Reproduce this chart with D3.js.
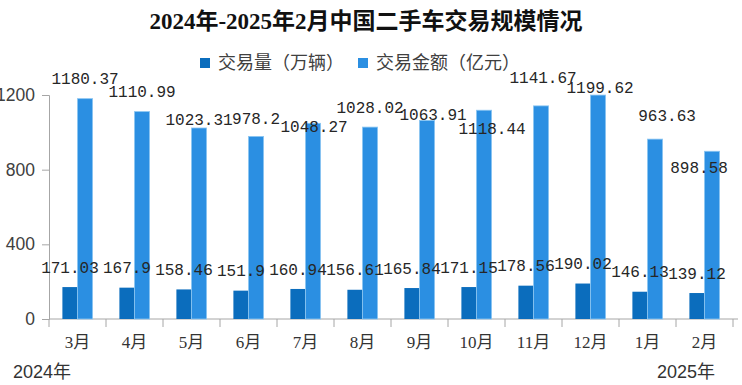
<!DOCTYPE html>
<html>
<head>
<meta charset="utf-8">
<script src="https://cdn.jsdelivr.net/npm/d3@7/dist/d3.min.js"></script>
<style>
  body { margin: 0; background: #fff; }
  svg { display: block; }
  .axis path, .axis line { stroke: #a6a6a6; }
  .axis-y text { font-family: "Liberation Sans", Arial, sans-serif; font-size: 17.5px; fill: #404040; }
  .axis-x text { font-family: "Liberation Serif", "Noto Sans CJK SC", serif; font-size: 17px; fill: #333; }
  .value { font-family: "Liberation Mono", monospace; font-size: 16px; fill: #262626; }
</style>
</head>
<body>
<div id="chart"></div>
<script>
var months = ['3月','4月','5月','6月','7月','8月','9月','10月','11月','12月','1月','2月']
var volume = [171.03, 167.9, 158.46, 151.9, 160.94, 156.61, 165.84, 171.15, 178.56, 190.02, 146.13, 139.12]
var amount = [1180.37, 1110.99, 1023.31, 978.2, 1048.27, 1028.02, 1063.91, 1118.44, 1141.67, 1199.62, 963.63, 898.58]
var yTicks = [0, 400, 800, 1200]
var seriesNames = ['交易量（万辆）', '交易金额（亿元）']
var yearLabels = ['2024年', '2025年']

// label nudges copied by eye from the original (Excel moved some of them)
var amountNudge = [[0,0],[0,0],[0,11],[0,2],[1,23],[0,0],[6,14],[8,38],[2,-8],[2,12],[12,-4],[-13,36]]

;(function() {
  var width = 742
  var height = 385
  var left = 49, right = 733, top = 95, bottom = 319
  var colors = ['#0b6dbd', '#2b8fe2']

  var svg = d3.select('#chart')
    .append('svg')
    .attr('width', width)
    .attr('height', height)

  var x = d3.scaleBand().domain(months).range([left, right])
  var groupW = x.step() * 0.53
  var x1 = d3.scaleBand().domain([0, 1]).range([0, groupW])
  var offset = (x.step() - groupW) / 2
  var y = d3.scaleLinear().domain([0, 1200]).range([bottom, top])

  // title
  svg.append('text')
    .attr('x', 366)
    .attr('y', 29)
    .attr('text-anchor', 'middle')
    .attr('font-family', '"Liberation Serif", "Noto Sans CJK SC", serif')
    .attr('font-weight', 'bold')
    .attr('font-size', 23)
    .attr('fill', '#111')
    .text('2024年-2025年2月中国二手车交易规模情况')

  // legend
  var legendX = [200, 358]
  var legend = svg.append('g').attr('class', 'legend')
    .selectAll('g')
    .data(seriesNames)
    .enter().append('g')
    .attr('transform', (d, i) => 'translate(' + legendX[i] + ',58)')
  legend.append('rect')
    .attr('width', 10).attr('height', 10)
    .attr('fill', (d, i) => colors[i])
  legend.append('text')
    .attr('x', 18).attr('y', 5)
    .attr('dy', '0.35em')
    .attr('font-family', '"Noto Sans CJK SC", sans-serif')
    .attr('font-size', 18)
    .attr('fill', '#404040')
    .text(d => d)

  // axes
  var yAxis = d3.axisLeft(y).tickValues(yTicks).tickSize(7).tickPadding(7).tickFormat(d3.format('d'))
  svg.append('g')
    .attr('class', 'axis axis-y')
    .attr('transform', 'translate(' + left + ',0)')
    .call(yAxis)

  var xAxis = d3.axisBottom(x).tickSize(0).tickPadding(17)
  var gx = svg.append('g')
    .attr('class', 'axis axis-x')
    .attr('transform', 'translate(0,' + bottom + ')')
    .call(xAxis)
  gx.select('.domain').attr('d', 'M' + left + ',0H' + (right + 5))

  var edges = months.map(m => x(m)).concat([right])
  gx.selectAll('.edge')
    .data(edges)
    .enter().append('line')
    .attr('class', 'edge')
    .attr('x1', d => d).attr('x2', d => d)
    .attr('y1', 0).attr('y2', 8)

  // bars
  var groups = svg.append('g').attr('class', 'bars')
    .selectAll('g')
    .data(months)
    .enter().append('g')
    .attr('transform', d => 'translate(' + (x(d) + offset) + ',0)')

  groups.append('rect')
    .attr('x', x1(0))
    .attr('y', (d, i) => y(volume[i]))
    .attr('width', x1.bandwidth())
    .attr('height', (d, i) => bottom - y(volume[i]))
    .attr('fill', colors[0])

  groups.append('rect')
    .attr('x', x1(1))
    .attr('y', (d, i) => y(amount[i]))
    .attr('width', x1.bandwidth())
    .attr('height', (d, i) => bottom - y(amount[i]))
    .attr('fill', colors[1])
    .attr('stroke', '#8cc6f2')
    .attr('stroke-width', 0.8)

  // value labels
  groups.append('text')
    .attr('class', 'value')
    .attr('x', x1(0) + x1.bandwidth() / 2)
    .attr('y', (d, i) => y(volume[i]) - 20)
    .attr('dy', '0.35em')
    .attr('text-anchor', 'middle')
    .text((d, i) => volume[i])

  groups.append('text')
    .attr('class', 'value')
    .attr('x', (d, i) => x1(1) + x1.bandwidth() / 2 + amountNudge[i][0])
    .attr('y', (d, i) => y(amount[i]) - 20 + amountNudge[i][1])
    .attr('dy', '0.35em')
    .attr('text-anchor', 'middle')
    .text((d, i) => amount[i])

  // year labels under the axis
  svg.selectAll('.year')
    .data(yearLabels)
    .enter().append('text')
    .attr('class', 'year')
    .attr('x', (d, i) => i == 0 ? 13 : 657)
    .attr('y', 378)
    .attr('font-family', '"Liberation Sans", "Noto Sans CJK SC", sans-serif')
    .attr('font-size', 18)
    .attr('fill', '#333')
    .text(d => d)
})()
</script>
</body>
</html>
